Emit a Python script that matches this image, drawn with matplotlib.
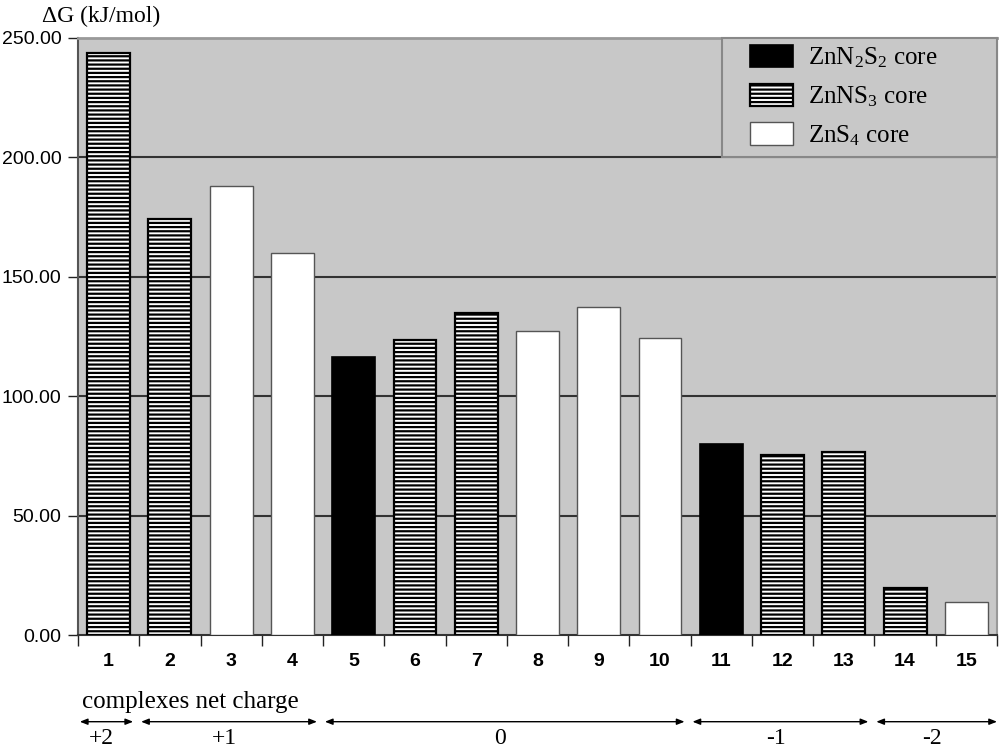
import matplotlib
matplotlib.use("Agg")
import matplotlib.pyplot as plt
from matplotlib.patches import Patch, Rectangle
import matplotlib.transforms as mtransforms

# ---- data ----
complexes = [str(i) for i in range(1, 16)]
delta_g = [243.5, 174.0, 188.0, 160.0, 116.2, 123.7, 134.9, 127.4, 137.5, 124.3,
           79.9, 75.4, 76.8, 19.7, 13.8]
core = ["NS3", "NS3", "S4", "S4", "N2S2", "NS3", "NS3", "S4", "S4", "S4",
        "N2S2", "NS3", "NS3", "NS3", "S4"]
charge_labels = ["+2", "+1", "0", "-1", "-2"]
charge_counts = [1, 3, 6, 3, 2]
y_ticks = [0, 50, 100, 150, 200, 250]

plt.rcParams['font.family'] = ['Liberation Sans', 'DejaVu Sans']
plt.rcParams['mathtext.default'] = 'regular'
plt.rcParams['hatch.linewidth'] = 1.6
plt.rcParams['hatch.color'] = 'black'

SERIF = ['Liberation Serif', 'DejaVu Serif']
BG = '#c8c8c8'

styles = {
    "N2S2": dict(facecolor='black', edgecolor='black', hatch=None, linewidth=1.2),
    "NS3": dict(facecolor='white', edgecolor='black', hatch='----', linewidth=1.6),
    "S4": dict(facecolor='white', edgecolor='#555555', hatch=None, linewidth=1.0),
}
legend_labels = {
    "N2S2": "ZnN$_2$S$_2$ core",
    "NS3": "ZnNS$_3$ core",
    "S4": "ZnS$_4$ core",
}

fig = plt.figure(figsize=(10, 7.48), dpi=100)
ax = fig.add_axes([0.078, 1 - 635 / 748, 0.997 - 0.078, (635 - 37.8) / 748])
ax.set_facecolor(BG)

x = list(range(len(complexes)))
for xi, v, c in zip(x, delta_g, core):
    st = styles[c]
    ax.bar(xi, v, width=0.70, facecolor=st['facecolor'], edgecolor=st['edgecolor'],
           hatch=st['hatch'], linewidth=st['linewidth'], zorder=3)

ax.set_xlim(-0.5, len(complexes) - 0.5)
ax.set_ylim(0, 250)
ax.set_yticks(y_ticks)
ax.set_yticklabels([f"{t:.2f}" for t in y_ticks], fontsize=14)
ax.tick_params(axis='y', direction='out', length=7, width=1, pad=5, colors='#222222',
               labelcolor='black')

ax.set_xticks(x)
ax.set_xticklabels(complexes, fontsize=14, fontweight='bold')
ax.tick_params(axis='x', which='major', length=0, pad=13)
ax.set_xticks([i - 0.5 for i in range(len(complexes) + 1)], minor=True)
ax.tick_params(axis='x', which='minor', direction='out', length=8, width=1, colors='#222222')

for t in y_ticks[1:-1]:
    ax.axhline(t, color='#333333', linewidth=1.5, zorder=1)

ax.spines['top'].set_color('#999999')
ax.spines['top'].set_linewidth(2)
ax.spines['right'].set_color('#999999')
ax.spines['right'].set_linewidth(1.5)
ax.spines['left'].set_color('#555555')
ax.spines['left'].set_linewidth(1.5)
ax.spines['bottom'].set_color('#333333')
ax.spines['bottom'].set_linewidth(1.5)

# legend frame
ax.add_patch(Rectangle(((722 - 78) / 919, (635 - 157) / 597), 1 - (722 - 78) / 919,
                       1 - (635 - 157) / 597, transform=ax.transAxes, facecolor=BG,
                       edgecolor='#888888', linewidth=1.5, zorder=4, clip_on=False))
handles = []
for key in ["N2S2", "NS3", "S4"]:
    st = styles[key]
    handles.append(Patch(facecolor=st['facecolor'], edgecolor=st['edgecolor'],
                         hatch=st['hatch'], linewidth=st['linewidth'],
                         label=legend_labels[key]))
leg = ax.legend(handles=handles, loc='upper left', bbox_to_anchor=(750 / 1000, 1 - 45 / 748),
                bbox_transform=fig.transFigure, frameon=False, borderpad=0,
                borderaxespad=0,
                handlelength=1.72, handleheight=1.0, handletextpad=0.6,
                labelspacing=0.53, prop={'family': SERIF, 'size': 18})
leg.set_zorder(5)

# y label
fig.text(42 / 1000, 1 - 16 / 748, "ΔG (kJ/mol)", family=SERIF, fontsize=17,
         ha='left', va='center')

# net charge annotation
fig.text(82 / 1000, 1 - 708 / 748, "complexes net charge", family=SERIF, fontsize=18,
         ha='left', va='baseline')
trans = mtransforms.blended_transform_factory(ax.transData, fig.transFigure)
start = -0.5
n_total = len(complexes)
for lab, cnt in zip(charge_labels, charge_counts):
    end = start + cnt
    x0 = start + 0.03
    x1 = end - 0.1 if end < n_total - 0.5 else end
    ax.annotate("", xy=(x1, 1 - 721.7 / 748), xytext=(x0, 1 - 721.7 / 748),
                xycoords=trans, textcoords=trans,
                arrowprops=dict(arrowstyle='<|-|>,head_length=0.45,head_width=0.18',
                                color='black', lw=1, shrinkA=0, shrinkB=0),
                annotation_clip=False)
    ax.text((x0 + x1) / 2 - 0.08, 1 - 739 / 748, lab, transform=trans, family=SERIF,
            fontsize=17, ha='center', va='center', clip_on=False)
    start = end

fig.savefig("out.png", dpi=100, facecolor='white')
